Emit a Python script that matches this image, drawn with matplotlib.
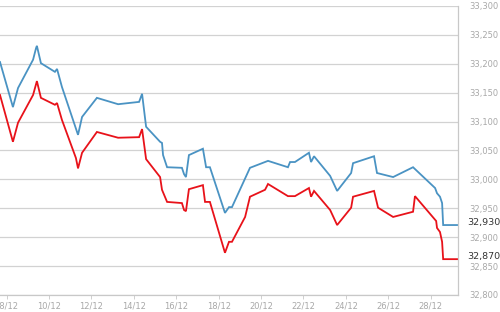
import matplotlib
matplotlib.use("Agg")
import matplotlib.pyplot as plt

# days of December (fractional) and prices
blue_day = [7.69, 8.30, 8.54, 9.25, 9.39, 9.43, 9.62, 10.28, 10.38, 10.61, 11.37,
            11.56, 12.26, 13.26, 14.25, 14.39, 14.58, 15.24, 15.33, 15.38, 15.57,
            16.27, 16.37, 16.46, 16.60, 17.26, 17.41, 17.59, 18.30, 18.49, 18.63,
            19.48, 20.33, 21.27, 21.37, 21.60, 22.26, 22.36, 22.50, 23.26, 23.59,
            24.25, 24.34, 25.33, 25.47, 26.23, 27.17, 28.21, 28.30, 28.44, 28.54,
            28.59, 29.25]
blue_val = [33203, 33125, 33158, 33207, 33227, 33231, 33201, 33186, 33191, 33160, 33077,
            33108, 33141, 33130, 33134, 33148, 33091, 33065, 33063, 33042, 33021,
            33020, 33009, 33004, 33042, 33053, 33021, 33021, 32942, 32952, 32952,
            33020, 33032, 33021, 33030, 33030, 33046, 33030, 33040, 33006, 32980,
            33011, 33028, 33040, 33011, 33004, 33021, 32985, 32976, 32970, 32959,
            32921, 32921]

red_day = [7.69, 8.30, 8.54, 9.25, 9.43, 9.62, 10.28, 10.38, 10.61, 11.27, 11.37,
           11.56, 12.26, 13.26, 14.25, 14.39, 14.58, 15.24, 15.33, 15.57, 16.27,
           16.37, 16.46, 16.60, 17.26, 17.36, 17.59, 18.30, 18.49, 18.63, 19.25,
           19.48, 20.19, 20.33, 21.27, 21.60, 22.26, 22.36, 22.50, 23.26, 23.59,
           24.25, 24.34, 25.33, 25.52, 26.23, 27.17, 27.26, 28.26, 28.30, 28.44,
           28.54, 28.59, 29.25]
red_val = [33146, 33065, 33098, 33146, 33170, 33141, 33129, 33132, 33103, 33037, 33019,
           33046, 33082, 33072, 33073, 33087, 33035, 33004, 32982, 32961, 32959,
           32947, 32945, 32983, 32990, 32961, 32961, 32873, 32892, 32892, 32935,
           32970, 32982, 32992, 32971, 32971, 32985, 32970, 32980, 32947, 32921,
           32951, 32970, 32980, 32951, 32935, 32944, 32971, 32928, 32916, 32909,
           32892, 32862, 32862]

x_ticks = [8, 10, 12, 14, 16, 18, 20, 22, 24, 26, 28]
x_labels = ["%02d/12" % d for d in x_ticks]
y_ticks = [32800, 32850, 32900, 32950, 33000, 33050, 33100, 33150, 33200, 33250, 33300]
last_labels = ["32,930", "32,870"]

fig = plt.figure(figsize=(5, 3.12), dpi=100)
ax = fig.add_axes([0.0, 0.0545, 0.916, 0.9265])

ax.plot(blue_day, blue_val, color="#4a93c3", lw=1.3, solid_joinstyle="miter")
ax.plot(red_day, red_val, color="#e8121a", lw=1.3, solid_joinstyle="miter")

ax.set_xlim(7.69, 29.29)
ax.set_ylim(32800, 33300)

ax.set_yticks(y_ticks)
ax.set_yticklabels(["{:,}".format(v) for v in y_ticks])
ax.yaxis.tick_right()
ax.tick_params(axis="y", length=0, pad=8, labelsize=6, labelcolor="#a8a8a8")
ax.set_xticks(x_ticks)
ax.set_xticklabels(x_labels)
ax.tick_params(axis="x", length=3, width=0.7, color="#cfcfcf", pad=2,
               labelsize=6, labelcolor="#a8a8a8")

ax.grid(axis="y", color="#d2d2d2", lw=0.9)
ax.set_axisbelow(True)
for side in ["left", "top"]:
    ax.spines[side].set_visible(False)
for side in ["right", "bottom"]:
    ax.spines[side].set_color("#c8c8c8")
    ax.spines[side].set_linewidth(0.9)

for txt, val in zip(last_labels, [blue_val[-1], red_val[-1]]):
    ax.annotate(txt, xy=(1, val), xycoords=("axes fraction", "data"),
                xytext=(9, 0), textcoords="offset pixels", va="baseline",
                ha="left", fontsize=6.8, color="#333333", annotation_clip=False)

fig.savefig("out.png", dpi=100)
